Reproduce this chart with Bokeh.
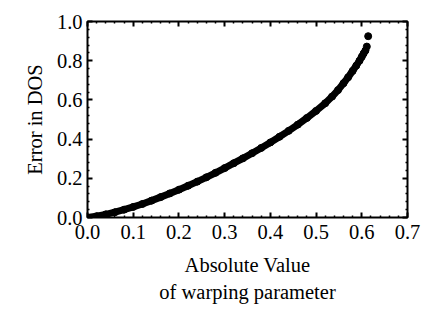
from bokeh.plotting import figure
from bokeh.models import Range1d, LinearAxis, FixedTicker, PrintfTickFormatter, Title
from bokeh.embed import file_html
from bokeh.resources import INLINE

# data
warp = [0.000, 0.020, 0.040, 0.060, 0.080, 0.100, 0.120, 0.140, 0.160, 0.180,
        0.200, 0.220, 0.240, 0.260, 0.280, 0.300, 0.320, 0.340, 0.360, 0.380,
        0.400, 0.420, 0.440, 0.460, 0.480, 0.500, 0.520, 0.535, 0.548, 0.560,
        0.570, 0.580, 0.588, 0.595, 0.600, 0.604, 0.608, 0.611, 0.614]
err = [0.000, 0.007, 0.016, 0.027, 0.040, 0.054, 0.069, 0.086, 0.104, 0.123,
       0.142, 0.162, 0.183, 0.205, 0.228, 0.252, 0.277, 0.302, 0.328, 0.355,
       0.383, 0.412, 0.442, 0.474, 0.508, 0.544, 0.583, 0.617, 0.650, 0.685,
       0.715, 0.748, 0.775, 0.800, 0.820, 0.837, 0.852, 0.872, 0.925]
n_joined = 37  # the last two points stand apart as single dots

x_ticks = [0.0, 0.1, 0.2, 0.3, 0.4, 0.5, 0.6, 0.7]
y_ticks = [0.0, 0.2, 0.4, 0.6, 0.8, 1.0]
x_label_1 = "Absolute Value"
x_label_2 = "of warping parameter"
y_label = "Error in DOS"

FONT = "Liberation Serif"
FS = "20.5px"


def minor_of(ticks, n=5):
    out = []
    for a, b in zip(ticks[:-1], ticks[1:]):
        step = (b - a) / n
        out += [a + k * step for k in range(1, n)]
    return out


def ticker_x():
    return FixedTicker(ticks=x_ticks, minor_ticks=minor_of(x_ticks))


def ticker_y():
    return FixedTicker(ticks=y_ticks, minor_ticks=minor_of(y_ticks))


p = figure(width=425, height=328, output_backend="svg", toolbar_location=None,
           x_range=Range1d(x_ticks[0], x_ticks[-1]),
           y_range=Range1d(y_ticks[0], y_ticks[-1]),
           min_border_left=87, min_border_right=18, min_border_top=21,
           min_border_bottom=111)
p.background_fill_color = "white"
p.border_fill_color = "white"
p.grid.visible = False
p.outline_line_color = "black"
p.outline_line_width = 2
p.outline_line_alpha = 1

p.xaxis.ticker = ticker_x()
p.yaxis.ticker = ticker_y()
p.xaxis.formatter = PrintfTickFormatter(format="%.1f")
p.yaxis.formatter = PrintfTickFormatter(format="%.1f")


def style(ax):
    ax.axis_line_color = None
    ax.major_tick_in = 5
    ax.major_tick_out = 0
    ax.minor_tick_in = 2
    ax.minor_tick_out = 0
    ax.major_tick_line_width = 2
    ax.minor_tick_line_width = 1.5
    ax.major_tick_line_color = "black"
    ax.minor_tick_line_color = "black"
    ax.major_label_text_font = FONT
    ax.major_label_text_font_size = FS
    ax.major_label_text_color = "black"
    ax.axis_label_text_font = FONT
    ax.axis_label_text_font_size = FS
    ax.axis_label_text_font_style = "normal"
    ax.axis_label_text_color = "black"


for ax in p.xaxis + p.yaxis:
    style(ax)

p.xaxis.axis_label = x_label_1
p.yaxis.axis_label = y_label
p.xaxis.major_label_standoff = 7
p.xaxis.axis_label_standoff = 12
p.yaxis.major_label_standoff = 5
p.yaxis.axis_label_standoff = 8

top = LinearAxis(ticker=ticker_x())
right = LinearAxis(ticker=ticker_y())
for ax in (top, right):
    style(ax)
    ax.major_label_overrides = {}
    ax.major_label_standoff = 0
    ax.axis_label_standoff = 0
top.major_label_overrides = {t: "" for t in x_ticks}
right.major_label_overrides = {t: "" for t in y_ticks}
p.add_layout(top, "above")
p.add_layout(right, "right")

t2 = Title(text=x_label_2, align="center", text_font=FONT, text_font_size=FS,
           text_font_style="normal", text_color="black", standoff=0, offset=0)
p.add_layout(t2, "below")

p.line(warp[:n_joined], err[:n_joined], line_width=7, line_color="black",
       line_cap="round", line_join="round")
p.scatter(warp, err, size=7, fill_color="black", line_color="black")

open("out.html", "w").write(file_html(p, INLINE))
